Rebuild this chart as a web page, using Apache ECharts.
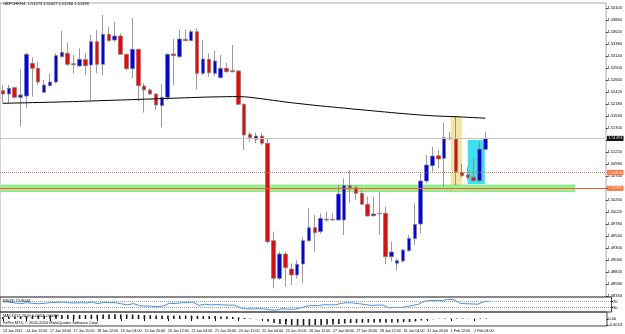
<!DOCTYPE html>
<html>
<head>
<meta charset="utf-8">
<script src="https://cdn.jsdelivr.net/npm/echarts@6/dist/echarts.min.js"></script>
<style>
html,body{margin:0;padding:0;background:#fff}
#main{width:625px;height:334px}
</style>
</head>
<body>
<div id="main"></div>
<script>
// GBPCHF H4 - MT4 style chart
var timeLabels = ['13 Jan 2011','14 Jan 12:00','17 Jan 04:00','17 Jan 20:00','18 Jan 12:00','19 Jan 04:00','19 Jan 20:00',
    '20 Jan 12:00','21 Jan 04:00','21 Jan 20:00','24 Jan 12:00','25 Jan 04:00','25 Jan 20:00','26 Jan 12:00',
    '27 Jan 04:00','27 Jan 20:00','28 Jan 12:00','31 Jan 04:00','31 Jan 20:00','1 Feb 12:00','2 Feb 04:00'];

var opens = [1.52447,1.52380,1.52507,1.52313,1.52340,1.52993,1.52893,1.52413,1.52547,1.52620,
    1.53127,1.53193,1.52987,1.52940,1.53067,1.52960,1.53427,1.52973,1.53573,1.53460,
    1.53540,1.53173,1.52887,1.53273,1.52540,1.52460,1.52380,1.52147,1.52313,1.53180,
    1.53127,1.53473,1.53447,1.53627,1.52793,1.53073,1.52793,1.52707,1.52893,1.52847,
    1.52840,1.52173,1.51573,1.51473,1.51540,1.51393,1.49447,1.48693,1.49180,1.48880,
    1.48760,1.48980,1.49447,1.49707,1.49627,1.49860,1.49873,1.49860,1.49860,1.50547,
    1.50507,1.50393,1.50173,1.49947,1.49987,1.49993,1.49127,1.48993,1.49040,1.49247,
    1.49487,1.49780,1.50640,1.50947,1.51147,1.51093,1.51500,1.51480,1.50813,1.50760,
    1.50713,1.50647,1.51273];
var highs = [1.52560,1.52560,1.52527,1.52873,1.53213,1.53113,1.53027,1.52660,1.52793,1.53193,
    1.53640,1.53407,1.53160,1.53293,1.53193,1.53560,1.53660,1.53960,1.53720,1.53820,
    1.53593,1.53193,1.53900,1.53293,1.52593,1.52493,1.52393,1.52573,1.53193,1.53480,
    1.53660,1.53673,1.53673,1.53693,1.53460,1.53193,1.53247,1.53160,1.53007,1.53360,
    1.52860,1.52193,1.51627,1.51607,1.51593,1.51493,1.49627,1.49227,1.49227,1.48993,
    1.49060,1.49527,1.50093,1.49960,1.49993,1.50027,1.49993,1.50560,1.50693,1.50860,
    1.50560,1.50460,1.50327,1.50327,1.50427,1.50127,1.49427,1.49093,1.49273,1.49560,
    1.50193,1.50793,1.51160,1.51327,1.51260,1.51813,1.51627,1.51927,1.50980,1.50927,
    1.51093,1.51427,1.51627];
var lows = [1.52193,1.52193,1.52293,1.51727,1.52093,1.52327,1.52560,1.52393,1.52527,1.52593,
    1.53113,1.52940,1.52793,1.52927,1.52760,1.52240,1.52793,1.52760,1.53427,1.53427,
    1.53160,1.52847,1.52693,1.52227,1.52007,1.52360,1.52060,1.51713,1.52260,1.52560,
    1.53093,1.53447,1.53440,1.52473,1.52760,1.52727,1.52740,1.52693,1.52807,1.52807,
    1.52160,1.51260,1.51427,1.51393,1.51360,1.49393,1.48493,1.48660,1.48527,1.48560,
    1.48693,1.48593,1.49427,1.49227,1.49593,1.49827,1.49847,1.49860,1.49560,1.50193,
    1.50260,1.50160,1.49927,1.49927,1.49560,1.48980,1.49027,1.48847,1.49007,1.49227,
    1.49360,1.49593,1.50593,1.50827,1.50893,1.50527,1.51460,1.50560,1.50713,1.50660,
    1.50627,1.50607,1.51260];
var closes = [1.52380,1.52493,1.52313,1.52360,1.53173,1.52893,1.52620,1.52560,1.52620,1.53147,
    1.53213,1.52973,1.52967,1.53073,1.52947,1.53427,1.52973,1.53573,1.53447,1.53540,
    1.53173,1.52887,1.53273,1.52547,1.52460,1.52380,1.52160,1.52313,1.53173,1.53147,
    1.53480,1.53447,1.53627,1.52793,1.53080,1.52807,1.53040,1.52893,1.52827,1.52827,
    1.52173,1.51560,1.51507,1.51540,1.51393,1.49427,1.48693,1.49180,1.48907,1.48760,
    1.48973,1.49447,1.49707,1.49607,1.49893,1.49873,1.49860,1.50380,1.50547,1.50507,
    1.50393,1.50173,1.49940,1.49980,1.49993,1.49127,1.49220,1.49047,1.49260,1.49493,
    1.49773,1.50640,1.50960,1.51140,1.51080,1.51507,1.51480,1.50827,1.50747,1.50713,
    1.50647,1.51280,1.51493];

// moving average (black line)
var maValues = [1.52194,1.52196,1.52200,1.52202,1.52204,1.52208,1.52210,1.52212,1.52216,1.52218,
    1.52222,1.52224,1.52228,1.52232,1.52236,1.52240,1.52244,1.52248,1.52252,1.52256,
    1.52260,1.52264,1.52268,1.52272,1.52276,1.52280,1.52284,1.52288,1.52292,1.52296,
    1.52300,1.52304,1.52308,1.52312,1.52316,1.52320,1.52322,1.52324,1.52326,1.52328,
    1.52328,1.52324,1.52314,1.52300,1.52284,1.52268,1.52252,1.52236,1.52220,1.52206,
    1.52192,1.52180,1.52166,1.52154,1.52142,1.52130,1.52120,1.52108,1.52098,1.52086,
    1.52074,1.52064,1.52052,1.52042,1.52030,1.52020,1.52008,1.51998,1.51988,1.51978,
    1.51968,1.51960,1.51952,1.51944,1.51938,1.51934,1.51930,1.51926,1.51920,1.51914,
    1.51908,1.51902,1.51896];

var rsiValues = [68,66,60,56,62,58,55,58,62,64,
    66,62,60,62,60,66,56,64,62,62,
    54,48,56,42,40,38,36,40,58,56,
    62,62,66,44,52,47,50,47,46,46,
    28,20,21,22,21,14,12,22,19,18,
    26,38,44,42,48,48,48,58,62,60,
    55,50,44,46,46,28,31,30,36,44,
    52,72,76,78,76,84,82,58,55,54,
    52,68,71.8];

var macdValues = [0.0008,0.0008,0.0009,0.0010,0.0012,0.0013,0.0014,0.0014,0.0015,0.0016,
    0.0016,0.0016,0.0017,0.0016,0.0016,0.0017,0.0017,0.0018,0.0018,0.0019,
    0.0018,0.0018,0.0018,0.0017,0.0016,0.0015,0.0014,0.0014,0.0014,0.0014,
    0.0014,0.0014,0.0014,0.0013,0.0012,0.0012,0.0012,0.0010,0.0010,0.0008,
    0.0006,0.0004,0.0002,-0.0001,-0.0002,-0.0010,-0.0016,-0.0020,-0.0022,-0.0024,
    -0.0026,-0.0026,-0.0026,-0.0024,-0.0024,-0.0022,-0.0022,-0.0020,-0.0018,-0.0016,
    -0.0016,-0.0015,-0.0014,-0.0014,-0.0014,-0.0015,-0.0014,-0.0014,-0.0012,-0.0012,
    -0.0010,-0.0006,-0.0003,-0.0001,0.0001,0.0002,0.0002,0.0002,0.0002,0.0001,
    0.0001,0.0002,0.0002];

var priceTicks = [1.4834,1.4858,1.4882,1.4906,1.4930,1.4954,1.4978,1.5002,1.5026,1.5050,1.5074,1.5098,
    1.5122,1.5146,1.5170,1.5194,1.5218,1.5242,1.5266,1.5290,1.5314,1.5338,1.5362,1.5386,1.5410];
var rsiTicks = [30, 70];
var macdTicks = [-0.0024, 0, 0.0012];

// objects drawn on the chart
var levelLine = 1.50494;
var dottedLevel = 1.50810;
var greenZone = [1.50427, 1.50560];
var greenZoneBars = [-0.3, 97.2];
var yellowBox = [76.1, 78.0, 1.50560, 1.51926];
var cyanBox = [79.0, 81.9, 1.50580, 1.51460];
var rsiText = 'RSI(3) 71.8044';
var macdText = 'MACD(12,26,9) 0.0002 -0.0003';
var copyText = 'FxPro MT4, \u00a9 2001-2010 MetaQuotes Software Corp.';

var slotCount = 103; // bars plus empty shift on the right
var FONT = "'Liberation Sans Narrow', 'Liberation Sans', Arial, sans-serif";

var cats = [];
for (var i = 0; i < slotCount; i++) cats.push(String(i));
var candleData = [];
for (var j = 0; j < opens.length; j++) candleData.push([opens[j], closes[j], lows[j], highs[j]]);
var last = opens.length - 1;
var bid = closes[last];
var title = 'GBPCHF,H4  ' + [opens[last], highs[last], lows[last], closes[last]].map(function (v) { return v.toFixed(5); }).join(' ');

var showTime = function (idx) { return idx % 4 === 0 && idx / 4 < timeLabels.length; };

var gridPos = {left: -1.275, width: 612.85};
var hiddenCat = function (g) {
    return {type: 'category', gridIndex: g, data: cats, axisLine: {show: false}, axisTick: {show: false}, axisLabel: {show: false}};
};
var lineLabel = function (bg) {
    return {show: true, position: 'end', distance: 1, fontSize: 4, fontFamily: FONT, color: '#fff',
        backgroundColor: bg, padding: [0.5, 1], formatter: function (p) { return p.value.toFixed(5); }};
};
var priceAxis = function (g, min, max, ticks, fmt) {
    return {
        gridIndex: g, position: 'right', min: min, max: max,
        splitLine: {show: false}, axisLine: {show: false, onZero: false},
        axisTick: {show: true, customValues: ticks, length: 1.5, lineStyle: {color: '#000'}},
        axisLabel: {customValues: ticks, fontSize: 4, margin: 1.5, color: '#000', fontFamily: FONT, formatter: fmt}
    };
};

var myChart = echarts.init(document.getElementById('main'));
myChart.setOption({
    animation: false,
    backgroundColor: '#fff',
    grid: [
        {left: gridPos.left, width: gridPos.width, top: 3, height: 294, show: true, borderColor: '#a8a8a8', borderWidth: 1},
        {left: gridPos.left, width: gridPos.width, top: 297, height: 15, show: true, borderColor: '#404040', borderWidth: 1},
        {left: gridPos.left, width: gridPos.width, top: 312, height: 14, show: true, borderColor: '#404040', borderWidth: 1}
    ],
    xAxis: [
        hiddenCat(0),
        hiddenCat(1),
        {
            type: 'category', gridIndex: 2, data: cats,
            axisLine: {show: false},
            axisTick: {show: true, interval: showTime, alignWithLabel: true, length: 2, lineStyle: {color: '#000'}},
            axisLabel: {
                interval: showTime, align: 'left', fontSize: 3.6, margin: 2.5, color: '#000', fontFamily: FONT,
                formatter: function (v, idx) { return timeLabels[idx / 4]; }
            }
        },
        {type: 'value', gridIndex: 0, min: -0.5, max: slotCount - 0.5, show: false}
    ],
    yAxis: [
        priceAxis(0, 1.4832, 1.5420, priceTicks, function (v) { return v.toFixed(5); }),
        priceAxis(1, 0, 100, rsiTicks, function (v) { return String(v); }),
        priceAxis(2, -0.0028, 0.0028, macdTicks, function (v) { return v === 0 ? '0.00' : v.toFixed(4); })
    ],
    graphic: [
        {type: 'text', left: 3, top: 2, z: 10, style: {text: title, fontSize: 4, fontFamily: FONT, fill: '#000'}},
        {type: 'text', left: 3, top: 298.5, z: 10, style: {text: rsiText, fontSize: 4, fontFamily: FONT, fill: '#000'}},
        {type: 'text', left: 3, top: 313.5, z: 10, style: {text: macdText, fontSize: 4, fontFamily: FONT, fill: '#000'}},
        {type: 'text', left: 3, top: 320.5, z: 10, style: {text: copyText, fontSize: 4, fontFamily: FONT, fill: '#000'}}
    ],
    series: [
        // boxes behind the candles
        {
            type: 'line', xAxisIndex: 3, yAxisIndex: 0, data: [], z: 1, silent: true,
            markArea: {
                silent: true,
                data: [
                    [{coord: [yellowBox[0], yellowBox[3]], itemStyle: {color: '#f2e6a0'}}, {coord: [yellowBox[1], yellowBox[2]]}],
                    [{coord: [cyanBox[0], cyanBox[3]], itemStyle: {color: '#38e2ee'}}, {coord: [cyanBox[1], cyanBox[2]]}]
                ]
            }
        },
        {
            type: 'candlestick', xAxisIndex: 0, yAxisIndex: 0, data: candleData, barWidth: 4, z: 3,
            itemStyle: {color: '#0000ff', color0: '#ff0000', borderColor: '#808080', borderColor0: '#808080', borderWidth: 0.8}
        },
        // bid line and dotted level
        {
            type: 'line', xAxisIndex: 0, yAxisIndex: 0, data: [], z: 2, silent: true,
            markLine: {
                silent: true, symbol: ['none', 'none'], precision: 5,
                data: [
                    {yAxis: bid, lineStyle: {color: '#c4c4c4', type: 'solid', width: 1}, label: lineLabel('#000')},
                    {yAxis: dottedLevel, lineStyle: {color: '#cc7a55', type: 'dotted', width: 1}, label: lineLabel('#ff6a33')}
                ]
            }
        },
        {
            type: 'line', xAxisIndex: 0, yAxisIndex: 0, data: maValues, symbol: 'none', z: 4, silent: true,
            lineStyle: {color: '#000', width: 1}
        },
        // green zone over the candles
        {
            type: 'line', xAxisIndex: 3, yAxisIndex: 0, data: [], z: 5, silent: true,
            markArea: {
                silent: true,
                data: [[{coord: [greenZoneBars[0], greenZone[1]], itemStyle: {color: '#9cef93', borderColor: '#6bdc63', borderWidth: 0.6}},
                    {coord: [greenZoneBars[1], greenZone[0]]}]]
            }
        },
        {
            type: 'line', xAxisIndex: 0, yAxisIndex: 0, data: [], z: 6, silent: true,
            markLine: {
                silent: true, symbol: ['none', 'none'], precision: 5,
                data: [{yAxis: levelLine, lineStyle: {color: '#ff5a2a', type: 'solid', width: 1}, label: lineLabel('#ff6a33')}]
            }
        },
        {
            type: 'line', xAxisIndex: 1, yAxisIndex: 1, data: rsiValues, symbol: 'none', silent: true,
            lineStyle: {color: '#4a90d9', width: 1},
            markLine: {
                silent: true, symbol: ['none', 'none'], label: {show: false},
                lineStyle: {color: '#a0a0a0', type: 'dotted', width: 1},
                data: [{yAxis: 70}, {yAxis: 30}]
            }
        },
        {
            type: 'bar', xAxisIndex: 2, yAxisIndex: 2, data: macdValues, barWidth: 1.6, silent: true,
            itemStyle: {color: '#1a1a1a'}
        }
    ]
});
</script>
</body>
</html>
